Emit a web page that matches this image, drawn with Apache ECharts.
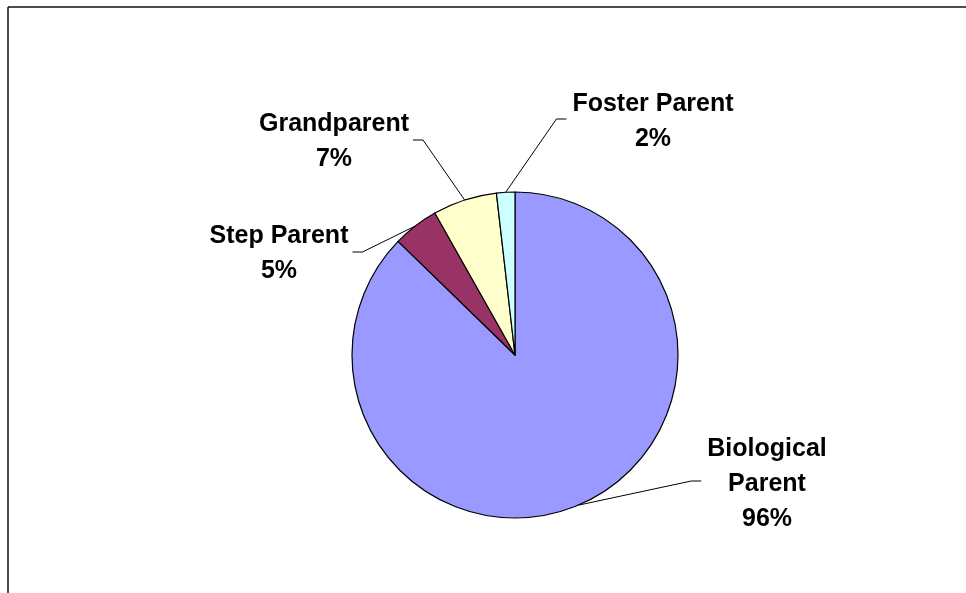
<!DOCTYPE html>
<html>
<head>
<meta charset="utf-8">
<script src="https://cdn.jsdelivr.net/npm/echarts@6/dist/echarts.min.js"></script>
<style>
html,body{margin:0;padding:0;background:#fff;}
#chart{width:966px;height:593px;}
</style>
</head>
<body>
<div id="chart"></div>
<script>
// Data
const categories = ['Biological Parent', 'Step Parent', 'Grandparent', 'Foster Parent'];
const values = [96, 5, 7, 2];
const colors = ['#9999FF', '#993366', '#FFFFCC', '#CCFFFF'];

// Label block centres (layout only)
const labelPos = [[767, 484], [279, 254], [334, 142], [653, 122]];
const pieCenter = [515, 355];

const chart = echarts.init(document.getElementById('chart'), null, {renderer: 'canvas'});

const option = {
  backgroundColor: '#ffffff',
  animation: false,
  graphic: [
    {type: 'line', shape: {x1: 8, y1: 7, x2: 966, y2: 7}, style: {stroke: '#111', lineWidth: 1.5}},
    {type: 'line', shape: {x1: 8, y1: 7, x2: 8, y2: 593}, style: {stroke: '#111', lineWidth: 1.5}}
  ],
  series: [{
    type: 'pie',
    center: pieCenter,
    radius: 163,
    startAngle: 90,
    clockwise: true,
    avoidLabelOverlap: false,
    data: categories.map((c, i) => ({name: c, value: values[i], itemStyle: {color: colors[i]}})),
    itemStyle: {borderColor: '#000', borderWidth: 1.2},
    label: {
      show: true,
      position: 'outside',
      formatter: p => (p.name.length > 13 ? p.name.replace(' ', '\n') : p.name) + '\n' + p.value + '%',
      fontFamily: '"Liberation Sans", Arial, sans-serif',
      fontWeight: 'bold',
      fontSize: 25,
      lineHeight: 35,
      color: '#000',
      align: 'center'
    },
    labelLine: {show: true, length: 20, length2: 10, lineStyle: {color: '#000', width: 1}},
    emphasis: {disabled: true},
    labelLayout: function (params) {
      const i = params.dataIndex;
      const lx = labelPos[i][0], ly = labelPos[i][1];
      const w = params.labelRect.width;
      const start = params.labelLinePoints ? params.labelLinePoints[0] : null;
      const res = {x: lx, y: ly, align: 'center', verticalAlign: 'middle'};
      if (start) {
        let p1, p2;
        if (lx < pieCenter[0]) {
          const edge = lx + w / 2;
          p2 = [edge + 4, ly - 2];
          p1 = [edge + 14, ly - 2];
        } else {
          const edge = lx - w / 2;
          p2 = [edge - 6, ly - 3];
          p1 = [edge - 16, ly - 3];
        }
        res.labelLinePoints = [start, p1, p2];
      }
      return res;
    }
  }]
};
chart.setOption(option);
</script>
</body>
</html>
